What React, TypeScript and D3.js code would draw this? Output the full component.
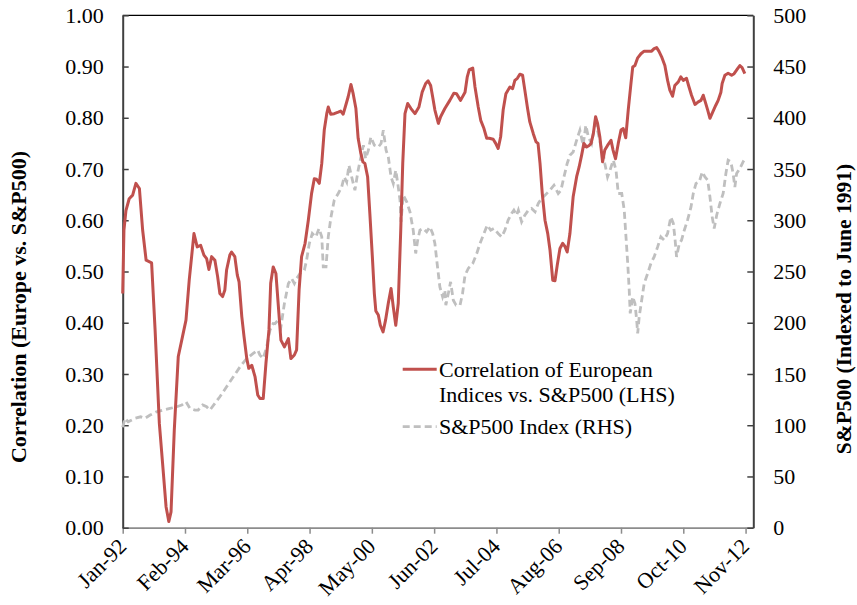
import React, { useEffect, useRef } from 'react';
import * as d3 from 'd3';

// months counted from Jan-92
const corrMonths = [
  0, 0.5, 1.3, 2.6, 4, 5.3, 6.7, 8, 9.4, 11.6, 13, 14.7, 16, 17.4, 18.5, 19.4, 20.7, 22.3, 24, 25.4,
  26.7, 28.6, 29.9, 31.3, 32.6, 33.7, 34.6, 35.7, 37, 38.1, 39, 40.1, 41, 41.7, 43, 43.7, 45, 46, 46.7, 47.8,
  48.7, 49.8, 50.6, 51.8, 53.1, 54.2, 55.1, 56.4, 57.5, 58.7, 59.4, 60.4, 61.5, 62.7, 63.5, 64.9, 66.5, 67.5, 68.9, 69.8,
  70.8, 71.8, 73.2, 74.5, 75.8, 76.9, 77.8, 78.9, 79.9, 80.9, 81.9, 82.5, 83.5, 84.9, 86.5, 87.5, 88.5, 89.5, 90.5, 91.6,
  92.5, 93.6, 94.5, 95.6, 96.4, 97.2, 98.3, 99.2, 100.2, 101, 101.6, 102.6, 103.4, 104.5, 105.5, 106.6, 107.7, 108.6, 109.6, 110.6,
  111.6, 112.4, 113.3, 114.4, 115.7, 117.3, 118.9, 120.2, 121.6, 122.6, 123.6, 124.4, 125.3, 126.7, 127.6, 129.3, 131.3, 132.9, 134, 135.6,
  137.4, 138.3, 139.1, 140.5, 141.4, 142.7, 143.7, 145, 146.1, 147.1, 148.7, 149.7, 150.7, 151.7, 152.7, 153.8, 155.4, 156.5, 157.4, 158.4,
  159.4, 160.5, 161.4, 162.5, 163.4, 164.8, 165.9, 166.7, 167.5, 168.4, 169.5, 170.6, 171.5, 172.6, 173.5, 174.4, 175.5, 176.6, 177.5, 178.4,
  179.5, 180.8, 182.2, 183.2, 184.2, 185.1, 186.2, 187.2, 188, 188.9, 189.8, 190.6, 191.5, 192.6, 193.5, 194.6, 196, 196.8, 197.8, 198.9,
  200, 200.9, 201.9, 202.9, 204, 204.7, 205.6, 206.7, 208, 209.3, 210.9, 212.3, 213.3, 214.3, 215.2, 216.3, 217.6, 218.7, 219.6, 220.7,
  221.6, 223, 224, 225, 226.3, 227.3, 228.3, 229.7, 231, 232.1, 233, 234, 234.8, 235.7, 236.8, 238, 239, 240.1, 240.6, 241.7,
  243, 244.4, 245.4, 246.8, 247.7, 248.6, 249.7,
];
const corrValues = [
  0.457, 0.581, 0.619, 0.642, 0.649, 0.672, 0.662, 0.581, 0.522, 0.517, 0.386, 0.204, 0.126, 0.041, 0.012, 0.031, 0.19, 0.334, 0.373, 0.405,
  0.483, 0.574, 0.548, 0.551, 0.532, 0.525, 0.504, 0.529, 0.522, 0.49, 0.457, 0.451, 0.464, 0.503, 0.532, 0.538, 0.529, 0.493, 0.48, 0.412,
  0.373, 0.33, 0.311, 0.317, 0.295, 0.259, 0.252, 0.252, 0.321, 0.386, 0.477, 0.509, 0.496, 0.418, 0.366, 0.353, 0.369, 0.33, 0.337, 0.347,
  0.464, 0.529, 0.555, 0.6, 0.652, 0.681, 0.68, 0.672, 0.711, 0.776, 0.808, 0.821, 0.807, 0.808, 0.811, 0.813, 0.807, 0.824, 0.841, 0.865,
  0.847, 0.818, 0.76, 0.73, 0.714, 0.711, 0.685, 0.613, 0.529, 0.457, 0.423, 0.415, 0.395, 0.382, 0.405, 0.438, 0.467, 0.431, 0.395, 0.438,
  0.581, 0.711, 0.808, 0.828, 0.818, 0.808, 0.821, 0.85, 0.867, 0.872, 0.863, 0.841, 0.815, 0.789, 0.802, 0.818, 0.834, 0.848, 0.847, 0.834,
  0.85, 0.88, 0.894, 0.897, 0.86, 0.821, 0.795, 0.779, 0.76, 0.76, 0.758, 0.75, 0.74, 0.763, 0.815, 0.847, 0.86, 0.857, 0.873, 0.877,
  0.885, 0.883, 0.854, 0.818, 0.792, 0.769, 0.753, 0.75, 0.711, 0.652, 0.6, 0.574, 0.542, 0.483, 0.482, 0.512, 0.545, 0.555, 0.549, 0.538,
  0.574, 0.646, 0.685, 0.704, 0.727, 0.75, 0.743, 0.746, 0.75, 0.769, 0.802, 0.789, 0.763, 0.714, 0.737, 0.746, 0.756, 0.737, 0.72, 0.75,
  0.776, 0.779, 0.761, 0.815, 0.867, 0.899, 0.902, 0.917, 0.925, 0.93, 0.93, 0.93, 0.935, 0.937, 0.93, 0.919, 0.902, 0.873, 0.854, 0.842,
  0.863, 0.87, 0.88, 0.873, 0.877, 0.86, 0.844, 0.826, 0.831, 0.834, 0.844, 0.828, 0.815, 0.799, 0.811, 0.824, 0.834, 0.85, 0.867, 0.883,
  0.887, 0.883, 0.886, 0.896, 0.902, 0.898, 0.886,
];

const spxMonths = [
  0, 0.9, 2.2, 4.9, 7.2, 8.9, 11, 13.6, 16.3, 19, 21.7, 23.7, 25.4, 27, 29, 30.3, 32.1, 33.7, 35, 37,
  39, 41.7, 44.4, 47.1, 49.8, 52.4, 54.2, 55.1, 56.4, 57.8, 59.1, 60.4, 61.1, 62.4, 63.5, 64.9, 66.5, 67.8, 68.9, 69.8,
  71.2, 72.9, 73.8, 74.9, 76.1, 77.5, 78.8, 79.9, 80.5, 81.6, 82.5, 83.6, 84.9, 86.5, 87.9, 88.9, 89.9, 90.8, 91.9, 93.2,
  94.5, 95.6, 96.6, 97.5, 98.6, 99.6, 101, 102.6, 103.7, 104.6, 105.7, 106.6, 107.7, 108.6, 109.6, 110.4, 111.3, 111.7, 112.6, 114,
  115.3, 116.6, 117.6, 118.4, 119.3, 120.6, 122, 123.3, 124.4, 125.3, 126.2, 127.3, 128.4, 129.3, 129.7, 130.7, 131.6, 132.7, 133.8, 135.4,
  136.4, 137.4, 138.7, 140.5, 142.1, 143.4, 145, 146.3, 147.7, 149, 150.7, 152.1, 153.4, 154.7, 156.1, 157, 158.1, 158.8, 160.1, 161.4,
  162.8, 164.1, 165.5, 166.8, 168.1, 169.5, 171.5, 173.1, 174.8, 175.9, 177.1, 178.4, 179.5, 180.8, 182.2, 183.5, 184.8, 185.9, 186.9, 188.2,
  189.5, 190.6, 192, 192.9, 193.5, 194.6, 195.6, 196.9, 198, 198.9, 200.3, 201.3, 202, 202.7, 203.3, 203.7, 204.7, 205.6, 206.3, 206.7,
  207.3, 208.3, 209.3, 210.7, 212, 213.3, 214.7, 216, 217.3, 218.7, 220, 221, 221.6, 222.3, 223.4, 224.3, 225.4, 226.7, 228.1, 229,
  230.1, 231.4, 232.6, 233.7, 234.8, 235.7, 236.6, 237.4, 238.4, 239.7, 241, 242.1, 243, 244.1, 245, 245.7, 246.4, 247.7, 249, 250,
];
const spxValues = [
  98, 106.7, 103.4, 106.7, 108.2, 106.7, 109.9, 113.1, 114.8, 116.4, 118, 119.7, 122.9, 116.4, 114.8, 114.8, 119.7, 118, 114.8, 121.3,
  127.8, 137.5, 147.3, 157, 165.2, 170.1, 173.3, 168.4, 165.2, 176.5, 192.8, 199.3, 199, 202.5, 196, 218.8, 238.3, 243.2, 238.3, 243.2,
  248.1, 251.3, 261, 277.3, 287.1, 283.8, 292, 283.8, 254.5, 254.5, 283.8, 303.3, 319.6, 326.1, 332.5, 342.3, 337.4, 353.7, 342.3, 329.3,
  348.8, 361.8, 373.2, 360.2, 368.3, 381.3, 373.2, 371.5, 374.9, 387.8, 368.3, 361.8, 342.3, 335.9, 348.8, 335.9, 319.6, 298.4, 324.5, 317.9,
  308.2, 290.3, 267.6, 280.6, 290.3, 292, 288.7, 293.5, 287.1, 277.3, 257.8, 235, 225.3, 231.8, 217.2, 228.6, 239.9, 222, 217.2, 217.2,
  228.6, 246.4, 253, 257.8, 267.6, 277.3, 287.1, 295.2, 290.3, 292, 287.1, 283.8, 290.3, 300.1, 306.6, 309.8, 304.9, 309.8, 298.4, 304.9,
  309.8, 311.5, 308.2, 316.4, 321.2, 324.5, 329.3, 334.2, 326.1, 329.3, 342.3, 355.4, 363.5, 366.7, 378.1, 387.8, 373.2, 392.7, 381.3, 374.9,
  394.4, 387.8, 371.5, 365.1, 355.4, 342.3, 348.8, 358.6, 348.8, 326.1, 326.1, 309.8, 283.8, 257.8, 231.8, 209.1, 225.3, 218.8, 202.5, 189.6,
  205.8, 222, 238.3, 248.1, 257.8, 264.3, 274, 283.8, 280.6, 287.1, 303.3, 296.9, 283.8, 264.3, 277.3, 280.6, 290.3, 300.1, 313, 326.1,
  335.9, 337.4, 347.2, 342.3, 339.1, 322.8, 303.3, 292, 304.9, 316.4, 326.1, 345.6, 358.6, 357, 345.6, 332.5, 345.6, 350.5, 357, 361.2,
];

const tickMonths = [0, 25, 50, 75, 100, 125, 150, 175, 200, 225, 250];
const tickLabels = ['Jan-92', 'Feb-94', 'Mar-96', 'Apr-98', 'May-00', 'Jun-02', 'Jul-04', 'Aug-06', 'Sep-08', 'Oct-10', 'Nov-12'];
const leftTicks = [0, 0.1, 0.2, 0.3, 0.4, 0.5, 0.6, 0.7, 0.8, 0.9, 1.0];
const rightTicks = [0, 50, 100, 150, 200, 250, 300, 350, 400, 450, 500];

const FONT = "'Liberation Serif', 'Times New Roman', serif";
const RED = '#C0504D';
const GREY = '#BFBFBF';

const App = () => {
  const chartRef = useRef<SVGSVGElement>(null);

  useEffect(() => {
    drawChart();
  }, []);

  function drawChart() {
    const svg = d3.select(chartRef.current);
    svg.selectAll('*').remove();
    const margin = { top: 15.3, left: 122.7, right: 103.7, bottom: 77.3 };
    const width = 857 - margin.left - margin.right;
    const height = 605 - margin.top - margin.bottom;

    const x = d3.scaleLinear().domain([0, 253.1]).range([0, width]);
    const yL = d3.scaleLinear().domain([0, 1]).range([height, 0]);
    const yR = d3.scaleLinear().domain([0, 500]).range([height, 0]);

    const g = svg.append('g').attr('transform', `translate(${margin.left},${margin.top})`);

    // top border
    g.append('line').attr('x1', 0).attr('x2', width).attr('y1', 0).attr('y2', 0)
      .attr('stroke', '#000').attr('stroke-width', 1.3);

    const bottom = g.append('g').attr('transform', `translate(0,${height})`)
      .call(d3.axisBottom(x).tickValues(tickMonths).tickSize(6).tickSizeOuter(0).tickFormat(() => ''));
    bottom.select('.domain').attr('stroke', '#8c8c8c').attr('stroke-width', 1.8);
    bottom.selectAll('.tick line').attr('stroke', '#8c8c8c').attr('stroke-width', 1.5);

    bottom.selectAll('.xlab')
      .data(tickMonths)
      .enter()
      .append('text')
      .attr('class', 'xlab')
      .attr('transform', d => `translate(${x(d) + 5},${20}) rotate(-45)`)
      .attr('text-anchor', 'end')
      .attr('font-family', FONT)
      .attr('font-size', 22)
      .attr('fill', '#000')
      .text((d, i) => tickLabels[i]);

    const left = g.append('g')
      .call(d3.axisLeft(yL).tickValues(leftTicks).tickSizeInner(-6).tickSizeOuter(0).tickPadding(19).tickFormat(d3.format('.2f')));
    left.select('.domain').attr('stroke', '#404040').attr('stroke-width', 2);
    left.selectAll('.tick line').attr('stroke', '#404040').attr('stroke-width', 1.5);
    left.selectAll('.tick text').attr('font-family', FONT).attr('font-size', 22).attr('fill', '#000');

    const right = g.append('g').attr('transform', `translate(${width},0)`)
      .call(d3.axisRight(yR).tickValues(rightTicks).tickSizeInner(-6).tickSizeOuter(0).tickPadding(20));
    right.select('.domain').attr('stroke', '#404040').attr('stroke-width', 2);
    right.selectAll('.tick line').attr('stroke', '#404040').attr('stroke-width', 1.5);
    right.selectAll('.tick text').attr('font-family', FONT).attr('font-size', 22).attr('fill', '#000');

    const spxLine = d3.line<number>()
      .x((d, i) => x(spxMonths[i]))
      .y(d => yR(d));
    g.append('path')
      .datum(spxValues)
      .attr('d', spxLine)
      .attr('fill', 'none')
      .attr('stroke', GREY)
      .attr('stroke-width', 2.8)
      .attr('stroke-dasharray', '7,4');

    const corrLine = d3.line<number>()
      .x((d, i) => x(corrMonths[i]))
      .y(d => yL(d));
    g.append('path')
      .datum(corrValues)
      .attr('d', corrLine)
      .attr('fill', 'none')
      .attr('stroke', RED)
      .attr('stroke-width', 3)
      .attr('stroke-linejoin', 'round');

    // legend
    const legend = svg.append('g').attr('font-family', FONT).attr('font-size', 22);
    legend.append('line').attr('x1', 402.7).attr('x2', 436.7).attr('y1', 369.3).attr('y2', 369.3)
      .attr('stroke', RED).attr('stroke-width', 3);
    legend.append('text').attr('x', 439).attr('y', 377).text('Correlation of European');
    legend.append('text').attr('x', 439).attr('y', 402).text('Indices vs. S&P500 (LHS)');
    legend.append('line').attr('x1', 402.7).attr('x2', 436.7).attr('y1', 426.7).attr('y2', 426.7)
      .attr('stroke', GREY).attr('stroke-width', 2.8).attr('stroke-dasharray', '7,4');
    legend.append('text').attr('x', 439).attr('y', 434).text('S&P500 Index (RHS)');

    // axis titles
    svg.append('text')
      .attr('transform', 'translate(18,307) rotate(-90)')
      .attr('text-anchor', 'middle')
      .attr('dy', '0.35em')
      .attr('font-family', FONT)
      .attr('font-size', 22)
      .attr('font-weight', 'bold')
      .text('Correlation (Europe vs. S&P500)');
    svg.append('text')
      .attr('transform', 'translate(845,309) rotate(-90)')
      .attr('text-anchor', 'middle')
      .attr('dy', '0.3em')
      .attr('font-family', FONT)
      .attr('font-size', 21.5)
      .attr('font-weight', 'bold')
      .text('S&P500 (Indexed to June 1991)');
  }

  return (
    <svg ref={chartRef} width={857} height={605} style={{ position: 'absolute', left: 0, top: 0, background: '#fff' }}></svg>
  );
};

export default App;
